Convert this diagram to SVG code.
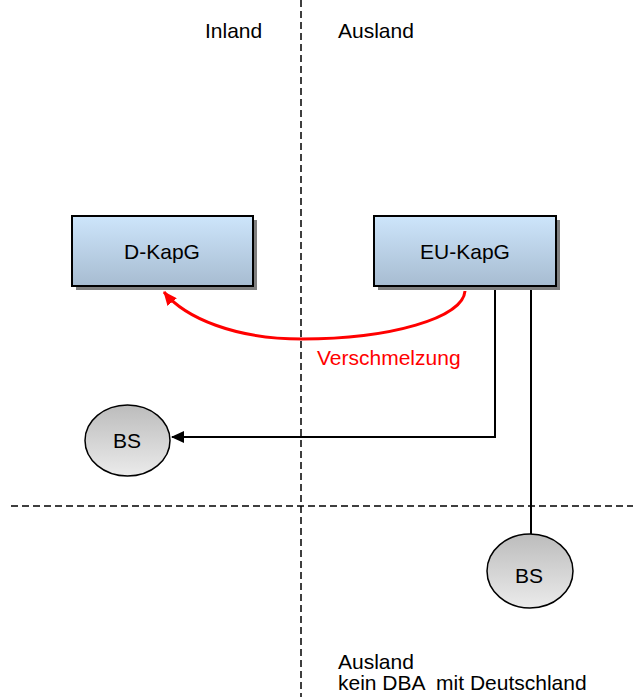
<svg xmlns="http://www.w3.org/2000/svg" width="633" height="697" viewBox="0 0 633 697">
  <style>
    text { font-family: "Liberation Sans", Arial, sans-serif; font-size: 21px; fill: #000; white-space: pre; }
    .lbl { text-anchor: middle; }
    .box { fill: url(#boxGrad); stroke: #000; stroke-width: 2; }
    .shadow { fill: #808080; }
    .bs { fill: url(#bsGrad); stroke: #000; stroke-width: 1.5; }
    .divider { fill: none; stroke: #000; stroke-width: 1.5; stroke-dasharray: 7 4; }
    .link { fill: none; stroke: #000; stroke-width: 2; }
    .merge { fill: none; stroke: #ff0000; stroke-width: 3; }
  </style>
  <defs>
    <linearGradient id="boxGrad" x1="0" y1="0" x2="0" y2="1">
      <stop offset="0" stop-color="#cde5fb"/>
      <stop offset="1" stop-color="#a7bcd1"/>
    </linearGradient>
    <linearGradient id="bsGrad" x1="0" y1="0" x2="0" y2="1">
      <stop offset="0" stop-color="#bcbcbc"/>
      <stop offset="1" stop-color="#ebebeb"/>
    </linearGradient>
    <marker id="arrowBlack" markerWidth="13" markerHeight="12" refX="12" refY="6" orient="auto" markerUnits="userSpaceOnUse">
      <path d="M0,0 L13,6 L0,12 Z" fill="#000"/>
    </marker>
    <marker id="arrowRed" markerWidth="14" markerHeight="12" refX="13" refY="6" orient="auto" markerUnits="userSpaceOnUse">
      <path d="M0,0 L14,6 L0,12 Z" fill="#ff0000"/>
    </marker>
  </defs>

  <!-- region dividers -->
  <g id="dividers">
    <line class="divider" x1="301" y1="0" x2="301" y2="697"/>
    <line class="divider" x1="11" y1="506" x2="633" y2="506"/>
  </g>

  <!-- region labels -->
  <g id="labels">
    <text x="205" y="38">Inland</text>
    <text x="338" y="38">Ausland</text>
    <text x="338" y="669">Ausland</text>
    <text x="338" y="690" xml:space="preserve">kein DBA  mit Deutschland</text>
  </g>

  <!-- connectors -->
  <g id="connectors">
    <path class="merge" d="M465,291 C463,318 390,339 302,339 C235,339 185,318 164,292" marker-end="url(#arrowRed)"/>
    <polyline class="link" points="495,287 495,437 172,437" marker-end="url(#arrowBlack)"/>
    <line class="link" x1="531" y1="287" x2="531" y2="534" stroke="#222"/>
    <text x="317" y="365" style="fill:#ff0000">Verschmelzung</text>
  </g>

  <g id="d-kapg">
    <rect class="shadow" x="76" y="220" width="181" height="70"/>
    <rect class="box" x="72" y="216" width="181" height="70"/>
    <text class="lbl" x="162" y="259">D-KapG</text>
  </g>

  <g id="eu-kapg">
    <rect class="shadow" x="378" y="220" width="182" height="70"/>
    <rect class="box" x="374" y="216" width="182" height="70"/>
    <text class="lbl" x="465" y="259">EU-KapG</text>
  </g>

  <g id="bs-inland">
    <ellipse class="bs" cx="127.5" cy="440.5" rx="42.5" ry="35.5"/>
    <text class="lbl" x="127" y="448">BS</text>
  </g>

  <g id="bs-ausland">
    <ellipse class="bs" cx="530" cy="571" rx="43" ry="37"/>
    <text class="lbl" x="529" y="583">BS</text>
  </g>
</svg>
